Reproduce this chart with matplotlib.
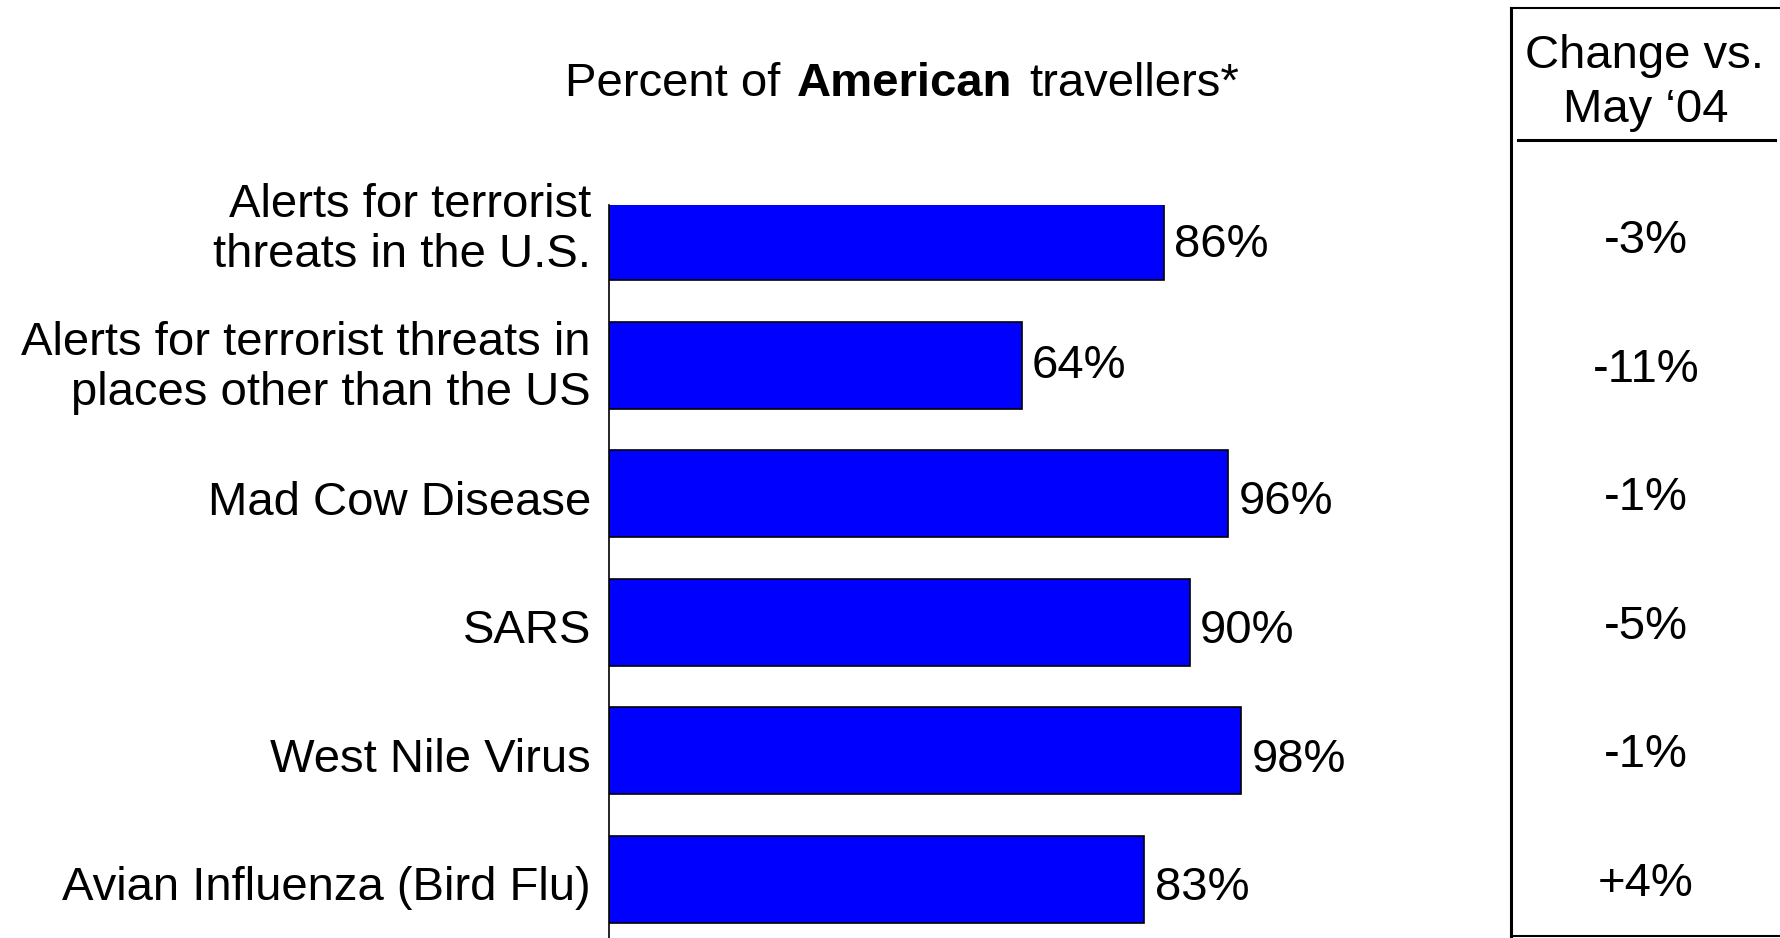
import matplotlib
matplotlib.use("Agg")
import matplotlib.pyplot as plt
import matplotlib.transforms as mtransforms
from matplotlib.lines import Line2D
from matplotlib.offsetbox import TextArea, HPacker, AnnotationBbox

plt.rcParams['font.family'] = ['Liberation Sans', 'DejaVu Sans']

categories = [
    "Alerts for terrorist\nthreats in the U.S.",
    "Alerts for terrorist threats in\nplaces other than the US",
    "Mad Cow Disease",
    "SARS",
    "West Nile Virus",
    "Avian Influenza (Bird Flu)",
]
percent = [86, 64, 96, 90, 98, 83]
change = ["-3%", "-11%", "-1%", "-5%", "-1%", "+4%"]

W, H = 1781, 938
fs = 34

fig = plt.figure(figsize=(W / 100, H / 100), dpi=100)
ax_top, ax_bot = 205, 938
ax = fig.add_axes([609 / W, 0, 645 / W, (ax_bot - ax_top) / H])

ypos = list(range(len(categories)))
ax.barh(ypos, percent, height=0.677, color="#0000FF", edgecolor="black", linewidth=1.2)

ylo, yhi = 5.455, -0.245
ax.set_xlim(0, 100)
ax.set_ylim(ylo, yhi)
px_unit = (ax_bot - ax_top) / (ylo - yhi)   # pixels per category step

ax.set_yticks([])
ax.set_xticks([])
for s in ["top", "right", "bottom"]:
    ax.spines[s].set_visible(False)
ax.spines["left"].set_linewidth(1.2)

blend = mtransforms.blended_transform_factory(fig.transFigure, ax.transData)

# category labels, one text per line, baselines in px relative to bar centre
label_base = [[-20, 30], [-10, 40], [21], [21], [21], [21]]
for y, lab, offs in zip(ypos, categories, label_base):
    for line, off in zip(lab.split("\n"), offs):
        ax.text(591 / W, y + off / px_unit, line, transform=blend, ha="right",
                va="baseline", fontsize=fs, clip_on=False)

# value labels
value_base = [20.5, 13, 20, 21, 21, 21]
for y, v, off in zip(ypos, percent, value_base):
    ax.text(v + 1.6, y + off / px_unit, f"{v}%", va="baseline", ha="left", fontsize=fs)

# title with bold word
parts = [
    TextArea("Percent of", textprops=dict(fontsize=fs)),
    TextArea("American", textprops=dict(fontsize=fs, fontweight="bold")),
    TextArea("travellers*", textprops=dict(fontsize=fs)),
]
title = HPacker(children=parts, align="baseline", pad=0, sep=12)
ab = AnnotationBbox(title, (902 / W, 1 - 84 / H), xycoords="figure fraction",
                    box_alignment=(0.5, 0.5), frameon=False, annotation_clip=False)
fig.add_artist(ab)

# change column
for y, c in zip(ypos, change):
    ax.text(1646 / W, y + 16.5 / px_unit, c, transform=blend, ha="center",
            va="baseline", fontsize=fs, clip_on=False)

fig.text(1645 / W, 1 - 68 / H, "Change vs.", ha="center", va="baseline", fontsize=fs)
fig.text(1646 / W, 1 - 122 / H, "May \u201804", ha="center", va="baseline", fontsize=fs)

# box around change column
fig.add_artist(Line2D([1511 / W, 1511 / W], [1 - 8 / H, 1 - 936 / H],
                      transform=fig.transFigure, color="black", linewidth=2.2))
fig.add_artist(Line2D([1511 / W, 1.0], [1 - 8 / H, 1 - 8 / H],
                      transform=fig.transFigure, color="black", linewidth=1.5))
fig.add_artist(Line2D([1511 / W, 1.0], [1 - 936 / H, 1 - 936 / H],
                      transform=fig.transFigure, color="black", linewidth=1.5))
fig.add_artist(Line2D([1518 / W, 1775 / W], [1 - 140 / H, 1 - 140 / H],
                      transform=fig.transFigure, color="black", linewidth=2.2))

fig.savefig("out.png", dpi=100)
